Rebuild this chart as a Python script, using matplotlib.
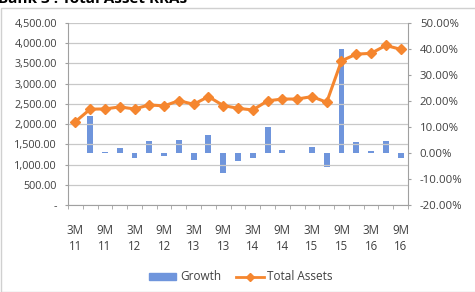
import matplotlib
matplotlib.use("Agg")
import matplotlib.pyplot as plt
import numpy as np
from matplotlib.lines import Line2D
from matplotlib.patches import Patch, Rectangle

plt.rcParams['font.family'] = ['Open Sans', 'DejaVu Sans']

periods = ["3M 11", "6M 11", "9M 11", "12M 11",
           "3M 12", "6M 12", "9M 12", "12M 12",
           "3M 13", "6M 13", "9M 13", "12M 13",
           "3M 14", "6M 14", "9M 14", "12M 14",
           "3M 15", "6M 15", "9M 15", "12M 15",
           "3M 16", "6M 16", "9M 16"]
total_assets = [2060, 2370, 2375, 2425, 2375, 2475, 2450, 2580, 2490, 2680,
                2460, 2390, 2350, 2575, 2620, 2620, 2680, 2540, 3565, 3730,
                3750, 3945, 3850]
growth = [np.nan, 14.3, 0.3, 1.9, -1.8, 4.7, -1.0, 5.1, -2.6, 7.0,
          -7.8, -3.0, -2.0, 10.1, 1.3, 0.1, 2.3, -5.3, 40.0, 4.3,
          0.9, 4.7, -1.9]
left_ticks = [0, 500, 1000, 1500, 2000, 2500, 3000, 3500, 4000, 4500]
right_ticks = [-20, -10, 0, 10, 20, 30, 40, 50]

bar_color = "#6f95dc"
line_color = "#f5862f"
text_color = "#404040"

fig = plt.figure(figsize=(4.75, 2.92), dpi=100)
ax = fig.add_axes([68/475, 1-205/292, (408-68)/475, (205-23)/292])
ax2 = ax.twinx()

x = np.arange(len(periods))

# bars on secondary axis
ax2.bar(x, growth, width=0.4, color=bar_color, zorder=2)
ax2.set_ylim(-20, 50)
ax2.set_yticks(right_ticks)
ax2.set_yticklabels([f"{t:.2f}%" for t in right_ticks])

# line on primary axis, drawn above bars
ax.set_zorder(ax2.get_zorder() + 1)
ax.patch.set_visible(False)
ax.plot(x, total_assets, color=line_color, lw=2.2, marker="D", ms=5,
        zorder=3)
ax.set_ylim(0, 4500)
ax.set_yticks(left_ticks)
ax.set_yticklabels(["-"] + [f"{t:,.2f}" for t in left_ticks[1:]])
ax.set_xlim(-0.5, len(periods) - 0.5)
ax.yaxis.grid(True, color="#c8c8c8", lw=0.9, zorder=0)
ax.set_axisbelow(True)

ax.set_xticks(np.arange(-0.5, len(periods), 1), minor=True)
ax.set_xticks(x[::2])
ax.set_xticklabels([p.replace(" ", "\n") for p in periods[::2]],
                   linespacing=1.3)
ax.tick_params(axis="x", which="major", length=0, pad=13.5, labelsize=8.3,
               colors=text_color)
ax.tick_params(axis="x", which="minor", length=3, color="#a0a0a0")
ax.tick_params(axis="y", length=2.5, color="#a0a0a0", labelsize=7.8,
               labelcolor=text_color, pad=5.5)
ax2.tick_params(axis="y", length=2.5, color="#a0a0a0", labelsize=8.2,
                labelcolor=text_color, pad=6)
for a in (ax, ax2):
    a.spines["top"].set_visible(False)
    for s in ["left", "right", "bottom"]:
        a.spines[s].set_color("#a0a0a0")
ax2.spines["bottom"].set_visible(False)
ax2.spines["left"].set_visible(False)
ax.spines["right"].set_visible(False)

# chart border
fig.patches.append(Rectangle((1/475, 0), 1, 1 - 8/292, transform=fig.transFigure,
                             fill=False, ec="#d0d0d0", lw=1))

# title (cut off at top, as in the reference)
fig.text(-2/475, 1 + 1/292, "Bank 3 : Total Asset RRAs", fontsize=11,
         fontweight="bold", color="#000000", ha="left", va="center")

handles = [Patch(color=bar_color, label="Growth"),
           Line2D([], [], color=line_color, lw=2, marker="D", ms=4,
                  label="Total Assets")]
fig.legend(handles=handles, loc="center", bbox_to_anchor=(241/475, 1-277/292),
           ncol=2, frameon=False, fontsize=8.5, handlelength=2.3,
           handleheight=0.55, columnspacing=1.3, handletextpad=0.3,
           labelcolor=text_color)

fig.savefig("out.png", dpi=100)
